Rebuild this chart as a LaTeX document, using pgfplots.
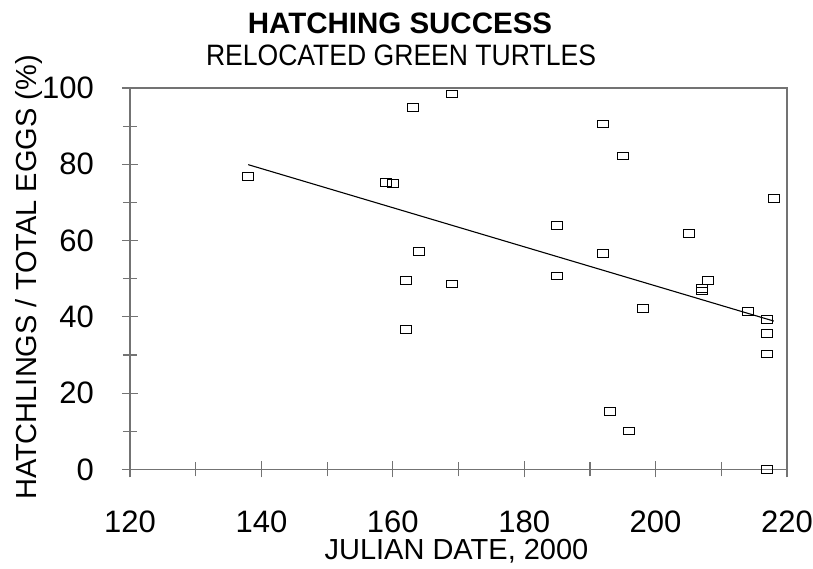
\documentclass[border=0pt]{standalone}
\usepackage{pgfplots}
\pgfplotsset{compat=1.18}
\usepackage{fontspec}
\setmainfont{Liberation Sans}
\usepackage{graphicx}
\definecolor{axgray}{RGB}{115,115,115}
\begin{document}
\begin{tikzpicture}
\begin{axis}[
  at={(130pt,99.5pt)}, anchor=south west,
  scale only axis, width=657pt, height=381.5pt,
  xmin=120, xmax=220, ymin=0, ymax=100,
  xtick={120,140,...,220}, minor xtick={130,150,...,210},
  ytick={0,20,...,100}, minor ytick={10,30,...,90},
  xtick pos=bottom, ytick pos=left,
  tick align=center,
  major tick length=16pt, minor tick length=14pt,
  axis line style={draw=axgray, line width=1.6pt},
  every tick/.style={draw=axgray, line width=1.2pt},
  /pgf/number format/assume math mode=true,
  ticklabel style={font=\fontsize{31}{37}\selectfont, inner sep=0pt},
  xticklabel style={anchor=north, yshift=-33.5pt},
  yticklabel style={anchor=east, xshift=-28pt},
  clip=false,
]
\addplot[only marks, mark=square, mark size=5.5pt, mark options={yscale=0.7, line width=0.9pt, draw=black, fill=white}]
coordinates {
(138,76.9) (159,75.2) (160,74.9) (162,49.5) (162,36.8) (163,94.9) (164,57.2)
(169,98.4) (169,48.6) (185,63.9) (185,50.7) (192,90.6) (192,56.6) (193,15.2)
(195,82.2) (196,10.1) (198,42.3) (205,61.9) (207,47.5) (207,46.8) (208,49.5)
(214,41.5) (217,39.4) (217,35.7) (217,30.3) (217,0.1) (218,71.0)
};
\addplot[black, line width=1.1pt] coordinates {(138,79.9) (218,38.9)};
\end{axis}
\node[anchor=base, font=\bfseries\fontsize{29.5}{35}\selectfont] at (400pt,535.7pt) {HATCHING SUCCESS};
\node[anchor=base, font=\fontsize{29.5}{35}\selectfont] at (401pt,503pt) {\scalebox{0.9}[1]{RELOCATED GREEN TURTLES}};
\node[anchor=base, font=\fontsize{29}{35}\selectfont] at (456.5pt,9pt) {JULIAN DATE, 2000};
\node[anchor=base, rotate=90, font=\fontsize{29}{35}\selectfont] at (36pt,291.5pt) {HATCHLINGS / TOTAL EGGS (\%)};
\pgfresetboundingbox
\path (0,0) rectangle (813pt,569pt);
\end{tikzpicture}
\end{document}
